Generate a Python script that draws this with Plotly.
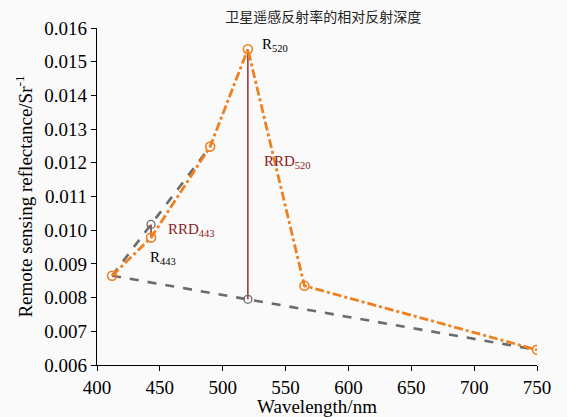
import plotly.graph_objects as go

# Band centre wavelengths (nm) and satellite remote sensing reflectance (sr^-1)
wavelength = [412, 443, 490, 520, 565, 750]
reflectance = [0.00865, 0.00978, 0.01248, 0.01537, 0.00835, 0.00645]

# Baseline 412 -> 490 used for the 443 band depth
base443_x = [412, 443, 490]
base443_y = [0.00865, 0.01017, 0.01248]

# Baseline 412 -> 750 used for the 520 band depth
base520_x = [412, 520, 750]
base520_y = [0.00865, 0.00795, 0.00645]

orange = "#f07f1e"
grey = "#6b6b6b"
darkred = "#a3393b"
serif = "Liberation Serif, Times New Roman, serif"

fig = go.Figure()

# Baselines (grey dashed)
fig.add_trace(go.Scatter(x=base443_x, y=base443_y, mode="lines",
                         line=dict(color=grey, width=2.6, dash="dash"),
                         hoverinfo="skip"))
fig.add_trace(go.Scatter(x=base520_x, y=base520_y, mode="lines",
                         line=dict(color=grey, width=2.6, dash="dash"),
                         hoverinfo="skip"))

# Relative reflectance depth segments
fig.add_trace(go.Scatter(x=[443, 443], y=[base443_y[1], reflectance[1]], mode="lines",
                         line=dict(color=darkred, width=1.6)))
fig.add_trace(go.Scatter(x=[520, 520], y=[base520_y[1], reflectance[3]], mode="lines",
                         line=dict(color=darkred, width=1.6)))

# Interpolated baseline points
fig.add_trace(go.Scatter(x=[base443_x[1], base520_x[1]], y=[base443_y[1], base520_y[1]],
                         mode="markers",
                         marker=dict(symbol="circle-open", size=8, color=grey,
                                     line=dict(width=1.3, color=grey))))

# Spectrum (orange dash-dot)
fig.add_trace(go.Scatter(x=wavelength, y=reflectance, mode="lines+markers",
                         line=dict(color=orange, width=2.8, dash="dashdot"),
                         marker=dict(symbol="circle-open", size=9, color=orange,
                                     line=dict(width=1.6, color=orange))))

annots = [
    dict(x=529.5, y=0.0155, text="R<sub>520</sub>", color="black"),
    dict(x=531.3, y=0.01202, text="RRD<sub>520</sub>", color="#8b1c1c"),
    dict(x=454.9, y=0.01001, text="RRD<sub>443</sub>", color="#8b1c1c"),
    dict(x=440.6, y=0.00918, text="R<sub>443</sub>", color="black"),
]
for a in annots:
    fig.add_annotation(x=a["x"], y=a["y"], text=a["text"], showarrow=False,
                       xanchor="left", yanchor="middle",
                       font=dict(family=serif, size=15, color=a["color"]))

fig.update_layout(
    width=567, height=417,
    margin=dict(l=97, r=30, t=28, b=52),
    paper_bgcolor="#fafafa", plot_bgcolor="#fafafa",
    showlegend=False,
    title=dict(text="卫星遥感反射率的相对反射深度", x=0.57, xanchor="center",
               y=0.958, yanchor="middle",
               font=dict(family="Noto Sans CJK SC", size=14, color="#222222")),
    font=dict(family=serif, color="black"),
)
fig.update_xaxes(range=[400, 750], tickvals=[400, 450, 500, 550, 600, 650, 700, 750],
                 automargin=False,
                 showgrid=False, zeroline=False, showline=True, linecolor="black",
                 linewidth=1.4, ticks="outside", ticklen=5, tickwidth=1.2,
                 tickcolor="black", tickfont=dict(family=serif, size=19),
                 title=dict(text="Wavelength/nm", font=dict(family=serif, size=19),
                            standoff=4))
fig.update_yaxes(range=[0.006, 0.016], dtick=0.001, tickformat=".3f",
                 automargin=False,
                 showgrid=False, zeroline=False, showline=True, linecolor="black",
                 linewidth=1.4, ticks="outside", ticklen=5, tickwidth=1.2,
                 tickcolor="black", tickfont=dict(family=serif, size=19),
                 title=dict(text="Remote sensing reflectance/Sr<sup>-1</sup>",
                            font=dict(family=serif, size=19), standoff=6))

fig.write_html("out.html")
